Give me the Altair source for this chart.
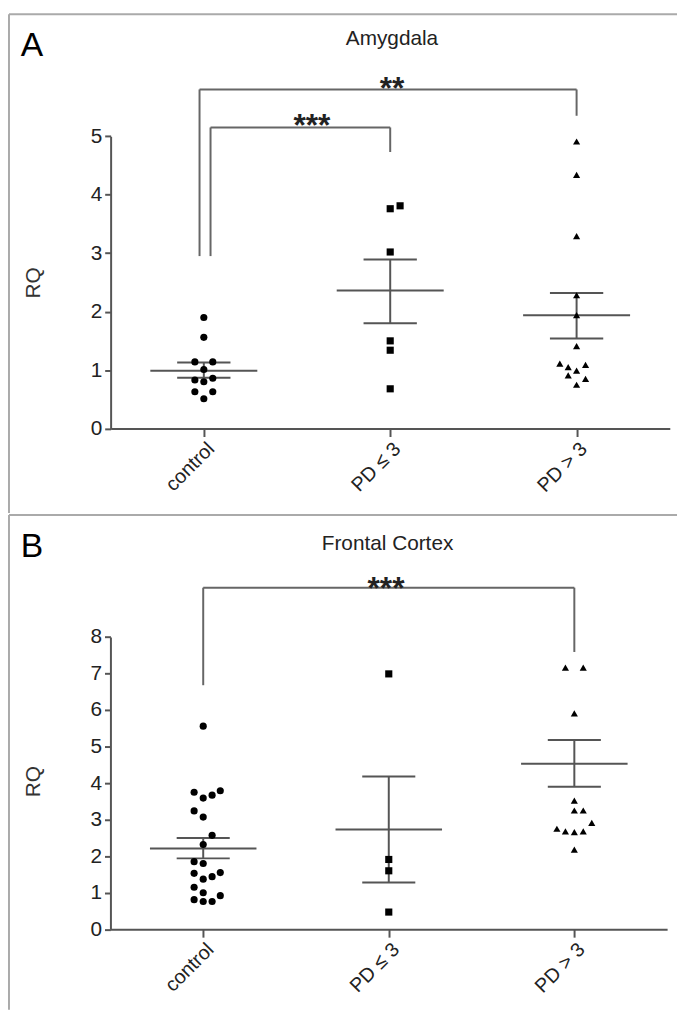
import json
import altair as alt
import pandas as pd

groups = ["control", "PD ≤ 3", "PD > 3"]

# ---------------- Panel A : Amygdala ----------------
a_control = [1.90, 1.56, 1.14, 1.14, 1.01, 0.83, 0.80, 0.86, 0.63, 0.63, 0.51]
a_control_off = [0, 0, -0.048, 0.048, 0, -0.048, 0, 0.048, -0.048, 0.048, 0]
a_pdlow = [3.76, 3.81, 3.02, 1.50, 1.34, 0.68]
a_pdlow_off = [0, 0.053, 0, 0, 0, 0]
a_pdhigh = [4.91, 4.34, 3.29, 2.28, 1.94, 1.41, 1.11, 1.05, 1.09, 0.99, 0.91, 0.85, 0.75]
a_pdhigh_off = [0, 0, 0, 0, 0, 0, -0.09, -0.045, 0.048, 0, -0.045, 0.048, 0]
a_mean = [0.99, 2.36, 1.94]
a_sem_hi = [1.13, 2.89, 2.32]
a_sem_lo = [0.87, 1.80, 1.54]
# brackets: left x, right x, top, left end, right end
a_br_x1 = [0.036, -0.023]
a_br_x2 = [1.0, 2.0]
a_br_top = [5.15, 5.80]
a_br_lend = [2.95, 2.95]
a_br_rend = [4.73, 5.35]
a_star_x = [0.58, 1.01]
a_star_y = [5.0, 5.63]
a_star_txt = ["***", "**"]

# ---------------- Panel B : Frontal Cortex ----------------
b_control = [5.56, 3.75, 3.59, 3.67, 3.79, 3.24, 3.07, 2.57, 2.32, 1.85, 1.80,
             1.53, 1.37, 1.44, 1.55, 1.15, 1.00, 0.92, 0.81, 0.76, 0.76]
b_control_off = [0, -0.049, 0, 0.048, 0.092, -0.049, 0, 0.048, 0, -0.049, 0,
                 -0.049, 0, 0.048, 0.092, -0.049, 0, 0.092, -0.049, 0, 0.048]
b_pdlow = [6.99, 1.91, 1.60, 0.47]
b_pdlow_off = [0, 0, 0, 0]
b_pdhigh = [7.16, 7.16, 5.91, 3.52, 3.25, 3.25, 2.91, 2.75, 2.68, 2.66, 2.68, 2.18]
b_pdhigh_off = [-0.048, 0.048, 0, 0, 0, 0.048, 0.094, -0.094, -0.048, 0, 0.048, 0]
b_mean = [2.21, 2.73, 4.53]
b_sem_hi = [2.50, 4.18, 5.18]
b_sem_lo = [1.94, 1.28, 3.90]
b_br_x1 = [0.0]
b_br_x2 = [2.0]
b_br_top = [9.35]
b_br_lend = [6.68]
b_br_rend = [7.59]
b_star_x = [0.985]
b_star_y = [9.04]
b_star_txt = ["***"]

FONT = "Liberation Sans"
LINE = "#555555"
MEAN_HALF = 0.287
CAP_HALF = 0.143
W = 676


def points_df(vals, offs):
    rows = []
    for gi, (vs, os_) in enumerate(zip(vals, offs)):
        for v, o in zip(vs, os_):
            rows.append({"group": groups[gi], "x": gi + o, "y": v})
    return pd.DataFrame(rows)


def stats_df(mean, hi, lo):
    rows = []
    for i in range(3):
        rows.append({"x": i - MEAN_HALF, "x2": i + MEAN_HALF, "y": mean[i], "y2": mean[i]})
        rows.append({"x": i - CAP_HALF, "x2": i + CAP_HALF, "y": hi[i], "y2": hi[i]})
        rows.append({"x": i - CAP_HALF, "x2": i + CAP_HALF, "y": lo[i], "y2": lo[i]})
        rows.append({"x": i, "x2": i, "y": lo[i], "y2": hi[i]})
    return pd.DataFrame(rows)


def bracket_df(x1, x2, top, lend, rend):
    rows = []
    for a, b, t, l, r in zip(x1, x2, top, lend, rend):
        rows.append({"x": a, "x2": b, "y": t, "y2": t})
        rows.append({"x": a, "x2": a, "y": l, "y2": t})
        rows.append({"x": b, "x2": b, "y": r, "y2": t})
    return pd.DataFrame(rows)


def panel(pts, st, br, stars, letter, title, ytop, height, xrange_px, yrange_px,
          letter_y, title_x, title_y, rq_y):
    xs = alt.Scale(domain=[-0.5, 2.5], range=xrange_px, nice=False, zero=False)
    ys = alt.Scale(domain=[0, ytop], range=yrange_px, nice=False, zero=False)
    label_expr = json.dumps(groups) + "[datum.value]"
    xax = alt.Axis(values=[0, 1, 2], labelExpr=label_expr, labelAngle=-45,
                   orient="bottom", offset=-(height - yrange_px[0]),
                   tickSize=8, tickWidth=2, tickColor=LINE, domainColor=LINE,
                   domainWidth=2, labelFontSize=20, labelColor="#222222",
                   labelFont=FONT, labelPadding=2, labelOverlap=False,
                   labelFlush=False, grid=False, title=None)
    yax = alt.Axis(values=list(range(0, ytop + 1)), format="d", orient="left",
                   offset=-xrange_px[0], tickSize=6, tickWidth=2, tickColor=LINE,
                   domainColor=LINE, domainWidth=2, labelFontSize=21,
                   labelColor="#222222", labelFont=FONT, labelPadding=3,
                   grid=False, title="RQ", titleFont=FONT, titleFontSize=21,
                   titleFontWeight="normal", titleColor="#333333",
                   titleX=-78, titleY=rq_y, titleAngle=-90,
                   titleAlign="center", titleBaseline="middle")

    one = pd.DataFrame({"k": [0]})
    frame_top = alt.Chart(one).mark_rule(color="#aaaaaa", strokeWidth=2).encode(
        x=alt.value(1), x2=alt.value(W), y=alt.value(1))
    frame_left = alt.Chart(one).mark_rule(color="#aaaaaa", strokeWidth=2).encode(
        x=alt.value(1), y=alt.value(1), y2=alt.value(height))

    pts_layer = alt.Chart(pts).mark_point(filled=True, opacity=1, color="black", size=52).encode(
        x=alt.X("x:Q", scale=xs, axis=xax),
        y=alt.Y("y:Q", scale=ys, axis=yax),
        shape=alt.Shape("group:N", scale=alt.Scale(domain=groups,
                        range=["circle", "square", "triangle-up"]), legend=None),
    )
    st_layer = alt.Chart(st).mark_rule(color=LINE, strokeWidth=2).encode(
        x=alt.X("x:Q", scale=xs), x2="x2:Q",
        y=alt.Y("y:Q", scale=ys), y2="y2:Q")
    br_layer = alt.Chart(br).mark_rule(color="#666666", strokeWidth=2, clip=False).encode(
        x=alt.X("x:Q", scale=xs), x2="x2:Q",
        y=alt.Y("y:Q", scale=ys), y2="y2:Q")
    star_layer = alt.Chart(stars).mark_text(fontSize=32, font=FONT, fontWeight="bold",
                                            color="#222222", baseline="alphabetic",
                                            align="center", clip=False).encode(
        x=alt.X("x:Q", scale=xs), y=alt.Y("y:Q", scale=ys), text="t:N")
    letter_layer = alt.Chart(one).mark_text(text=letter, fontSize=34, font=FONT,
                                            color="black", align="left",
                                            baseline="alphabetic").encode(
        x=alt.value(13), y=alt.value(letter_y))
    title_layer = alt.Chart(one).mark_text(text=title, fontSize=21, font=FONT,
                                           color="#222222", align="center",
                                           baseline="alphabetic").encode(
        x=alt.value(title_x), y=alt.value(title_y))

    return alt.layer(frame_top, frame_left, st_layer, br_layer, pts_layer,
                     star_layer, letter_layer, title_layer).properties(
        width=W, height=height)


HA = 505
HB = 501
chart_a = panel(
    points_df([a_control, a_pdlow, a_pdhigh], [a_control_off, a_pdlow_off, a_pdhigh_off]),
    stats_df(a_mean, a_sem_hi, a_sem_lo),
    bracket_df(a_br_x1, a_br_x2, a_br_top, a_br_lend, a_br_rend),
    pd.DataFrame({"x": a_star_x, "y": a_star_y, "t": a_star_txt}),
    "A", "Amygdala", 5, HA, [103.7, 668.7], [419.7, 124.3],
    43, 388, 32, 272)

chart_b = panel(
    points_df([b_control, b_pdlow, b_pdhigh], [b_control_off, b_pdlow_off, b_pdhigh_off]),
    stats_df(b_mean, b_sem_hi, b_sem_lo),
    bracket_df(b_br_x1, b_br_x2, b_br_top, b_br_lend, b_br_rend),
    pd.DataFrame({"x": b_star_x, "y": b_star_y, "t": b_star_txt}),
    "B", "Frontal Cortex", 8, HB, [103.5, 666.0], [419.6, 124.3],
    43, 383.5, 36, 270)

chart = alt.vconcat(chart_a, chart_b, spacing=0).resolve_scale(
    x="independent", y="independent").configure_view(stroke=None).properties(padding=0)

chart.save("out.html", embed_options={"renderer": "svg", "actions": False})
